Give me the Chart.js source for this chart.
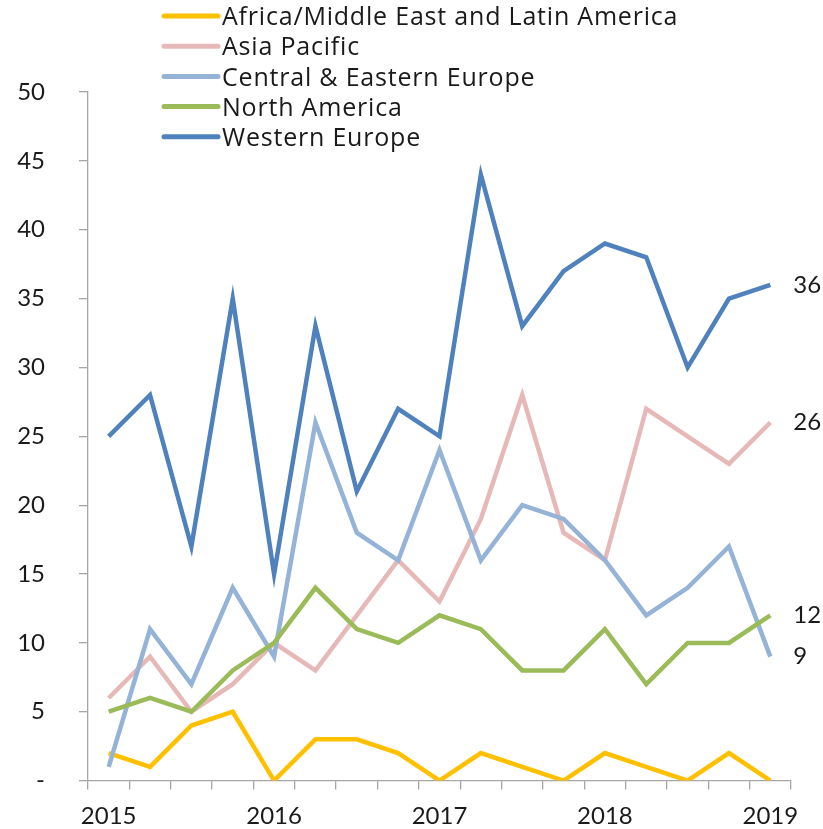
<!DOCTYPE html>
<html>
<head>
<meta charset="utf-8">
<script src="https://cdn.jsdelivr.net/npm/chart.js@4"></script>
<style>
html,body{margin:0;padding:0;background:#fff;}
#wrap{width:823px;height:829px;position:relative;}
</style>
</head>
<body>
<div id="wrap"><canvas id="c" width="823" height="829"></canvas></div>
<script>
const quarters = ['2015','2015Q2','2015Q3','2015Q4','2016','2016Q2','2016Q3','2016Q4','2017','2017Q2','2017Q3','2017Q4','2018','2018Q2','2018Q3','2018Q4','2019'];
const yearTicks = ['2015','2016','2017','2018','2019'];
const seriesNames = ['Africa/Middle East and Latin America','Asia Pacific','Central & Eastern Europe','North America','Western Europe'];
const africa   = [2,1,4,5,0,3,3,2,0,2,1,0,2,1,0,2,0];
const asiaPac  = [6,9,5,7,10,8,12,16,13,19,28,18,16,27,25,23,26];
const ceEurope = [1,11,7,14,9,26,18,16,24,16,20,19,16,12,14,17,9];
const nAmerica = [5,6,5,8,10,14,11,10,12,11,8,8,11,7,10,10,12];
const wEurope  = [25,28,17,35,15,33,21,27,25,44,33,37,39,38,30,35,36];
const endLabelSeries = [1,2,3,4];
const colors = ['#FFC000','#E6B9B8','#95B3D7','#9BBB59','#4F81BD'];
const FONT = 'Lato, "Open Sans", sans-serif';
const LEGEND_FONT = '"Open Sans", Lato, sans-serif';

const allData = [africa, asiaPac, ceEurope, nAmerica, wEurope];

const datasets = allData.map((d,i)=>({
  label: seriesNames[i],
  data: d,
  borderColor: colors[i],
  backgroundColor: colors[i],
  borderWidth: 4.5,
  pointRadius: 0,
  tension: 0,
  fill: false,
  order: 5 - i,
  borderCapStyle: 'butt',
  borderJoinStyle: 'miter'
}));

const customLegend = {
  id: 'customLegend',
  afterDraw(chart){
    const ctx = chart.ctx;
    ctx.save();
    ctx.font = '25px ' + LEGEND_FONT;
    try { ctx.letterSpacing = '0.8px'; } catch(e) {}
    ctx.textBaseline = 'middle';
    ctx.textAlign = 'left';
    const x0 = 164, lineLen = 54, y0 = 16, dy = 30.2;
    chart.data.datasets.forEach((ds,i)=>{
      const y = y0 + i*dy;
      ctx.strokeStyle = ds.borderColor;
      ctx.lineWidth = 5;
      ctx.lineCap = 'round';
      ctx.beginPath();
      ctx.moveTo(x0, y);
      ctx.lineTo(x0+lineLen, y);
      ctx.stroke();
      ctx.fillStyle = '#1a1a1a';
      ctx.fillText(ds.label, x0+lineLen+4, y+2);
    });
    ctx.restore();
  }
};

const endLabels = {
  id: 'endLabels',
  afterDatasetsDraw(chart){
    const ctx = chart.ctx;
    const xs = chart.scales.x, ys = chart.scales.y;
    ctx.save();
    ctx.font = '24px ' + FONT;
    ctx.fillStyle = '#1a1a1a';
    ctx.textBaseline = 'middle';
    ctx.textAlign = 'left';
    endLabelSeries.forEach(si=>{
      const d = chart.data.datasets[si].data;
      const v = d[d.length-1];
      const x = xs.getPixelForValue(d.length-1) + 23;
      ctx.fillText(String(v), x, ys.getPixelForValue(v));
    });
    ctx.restore();
  }
};

new Chart(document.getElementById('c'), {
  type: 'line',
  data: { labels: quarters, datasets },
  options: {
    responsive: false,
    animation: false,
    layout: { padding: { top: 92, right: 32, left: 0, bottom: 0 } },
    plugins: { legend: { display: false }, tooltip: { enabled: false } },
    scales: {
      x: {
        type: 'category',
        offset: true,
        grid: { display: true, offset: true, drawOnChartArea: false, drawTicks: true, tickLength: 9, color: '#A6A6A6', lineWidth: 1.3 },
        border: { display: true, color: '#A6A6A6', width: 1.3 },
        ticks: {
          autoSkip: false,
          maxRotation: 0,
          padding: 12,
          color: '#1a1a1a',
          font: { family: FONT, size: 24 },
          callback: function(v, idx){ const l = quarters[idx]; return yearTicks.includes(l) ? l : ''; }
        },
        afterFit(scale){ scale.height = 47; }
      },
      y: {
        min: 0, max: 50,
        ticks: {
          stepSize: 5,
          padding: 34,
          color: '#1a1a1a',
          font: { family: FONT, size: 24 },
          callback: v => v === 0 ? '-' : String(v)
        },
        grid: { display: true, drawOnChartArea: false, drawTicks: true, tickLength: 9, color: '#A6A6A6', lineWidth: 1.3 },
        border: { display: true, color: '#A6A6A6', width: 1.3 },
        afterFit(scale){ scale.width = 88; }
      }
    }
  },
  plugins: [customLegend, endLabels]
});
</script>
</body>
</html>
